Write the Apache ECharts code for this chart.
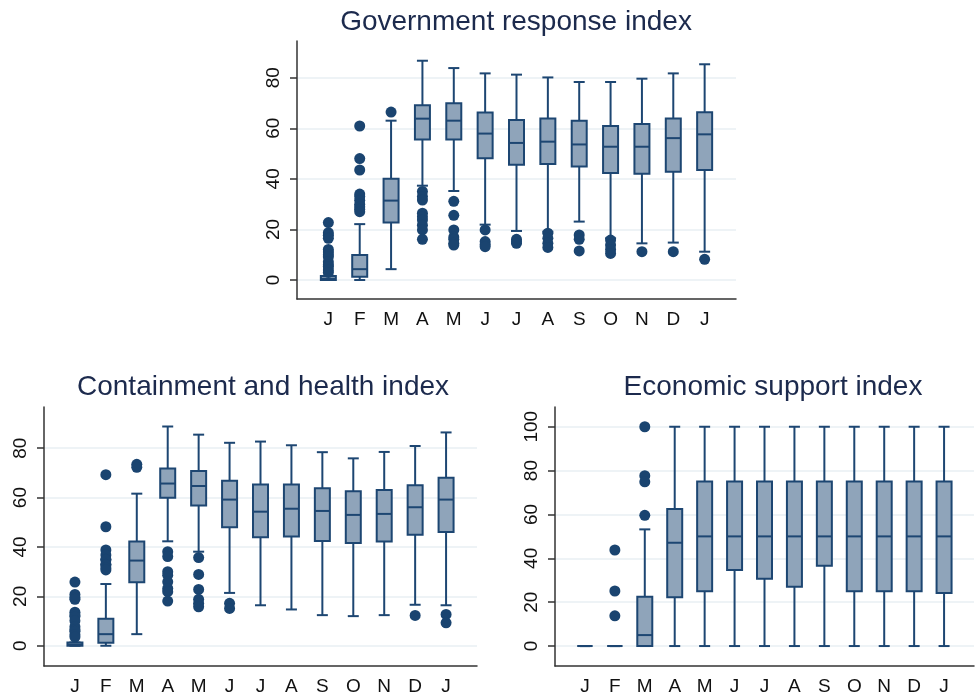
<!DOCTYPE html>
<html>
<head>
<meta charset="utf-8">
<script src="https://cdn.jsdelivr.net/npm/echarts@6/dist/echarts.min.js"></script>
<style>
html,body{margin:0;padding:0;background:#fff;}
#chart{width:977px;height:697px;}
</style>
</head>
<body>
<div id="chart"></div>
<script>
// Month categories (padded with empty slots at both ends)
const months = ['', 'J', 'F', 'M', 'A', 'M', 'J', 'J', 'A', 'S', 'O', 'N', 'D', 'J', ''];
const titles = ['Government response index', 'Containment and health index', 'Economic support index'];
const ticksA = [0, 20, 40, 60, 80];
const ticksC = [0, 20, 40, 60, 80, 100];

// Box statistics per month: [lower whisker, Q1, median, Q3, upper whisker]
const govBoxes = [
  [0, 0, 0.5, 1.6, 1.6],
  [0, 1.3, 4.3, 9.9, 22.1],
  [4.3, 22.7, 31.4, 40, 63],
  [37.3, 55.6, 63.8, 69.1, 86.7],
  [35.2, 55.6, 63, 69.9, 83.8],
  [21.9, 48.1, 57.9, 66.2, 81.7],
  [19.4, 45.6, 54.2, 63.3, 81.2],
  [19.1, 45.9, 54.7, 63.9, 80.1],
  [23.1, 44.9, 53.6, 63, 78.3],
  [16.5, 42.3, 52.7, 60.9, 78.3],
  [14.5, 42, 52.7, 61.7, 79.6],
  [14.8, 42.8, 56.1, 63.9, 81.7],
  [11.2, 43.5, 57.6, 66.3, 85.3]
];
const govOutliers = [
  [22.7, 18.7, 17.7, 16.5, 12.1, 11.1, 10, 9.2, 7.2, 6, 5.3, 4, 3],
  [60.9, 48, 43.5, 34, 33, 31.5, 30, 29, 28, 27],
  [66.4],
  [35, 33, 31.6, 26.4, 25, 23.7, 21.7, 19.8, 16.1],
  [31.1, 25.6, 19.8, 17, 16.1, 14.5, 13.8],
  [19.8, 15.2, 14, 13.2],
  [16.1, 15.2, 14.5],
  [18.5, 16.5, 14.5, 12.9],
  [17.8, 16.1, 11.5],
  [15.8, 13.8, 12.1, 10.5],
  [11.2],
  [11.2],
  [8.2]
];

const conBoxes = [
  [0, 0, 0.5, 1.35, 1.35],
  [0, 1.2, 4.7, 10.9, 25],
  [4.7, 25.7, 34.5, 42.2, 61.6],
  [42.3, 59.9, 65.7, 71.8, 88.8],
  [38.1, 56.8, 64.7, 70.8, 85.5],
  [21.4, 48, 59.2, 66.8, 82.2],
  [16.4, 43.9, 54.3, 65.3, 82.7],
  [14.7, 44.3, 55.5, 65.3, 81.2],
  [12.4, 42.4, 54.6, 63.8, 78.4],
  [12, 41.6, 53, 62.6, 75.9],
  [12.4, 42.2, 53.4, 63.1, 78.5],
  [16.6, 45, 56.1, 65, 80.9],
  [16.4, 46.1, 59.2, 68, 86.4]
];
const conOutliers = [
  [25.8, 20.8, 19.5, 18.8, 13.6, 12.5, 11.8, 10.1, 7.7, 6.5, 5.9, 4.5, 3.5],
  [69.3, 48.2, 38.8, 36.8, 35, 34.7, 33, 32.7, 31.5, 30.7],
  [73.5, 72.3],
  [38.1, 36.1, 30, 28.6, 25.9, 23.2, 21.9, 18.1],
  [35.7, 28.9, 22.8, 18.8, 17.2, 15.8],
  [17.2, 15.1],
  [], [], [], [], [],
  [12.3],
  [12.7, 9.3]
];

const ecoBoxes = [
  [0, 0, 0, 0, 0],
  [0, 0, 0, 0, 0],
  [0, 0, 5, 22.5, 53.2],
  [0, 22.2, 47.1, 62.5, 100],
  [0, 25, 50, 75, 100],
  [0, 34.7, 50, 75, 100],
  [0, 30.7, 50, 75, 100],
  [0, 27, 50, 75, 100],
  [0, 36.6, 50, 75, 100],
  [0, 25, 50, 75, 100],
  [0, 25, 50, 75, 100],
  [0, 25, 50, 75, 100],
  [0, 24.2, 50, 75, 100]
];
const ecoOutliers = [
  [],
  [43.8, 25.1, 13.8],
  [100, 77.7, 74.9, 59.6],
  [], [], [], [], [], [], [], [], [], []
];

const BORDER = '#1d4672';
const FILL = '#8fa4ba';
const DOT = '#1a4470';
const FONT = 'Liberation Sans, Arial, sans-serif';

function boxData(boxes) {
  return boxes.map((b, i) => [i + 1].concat(b));
}
function outlierData(outs) {
  const res = [];
  outs.forEach((arr, i) => arr.forEach(v => res.push([i + 1, v])));
  return res;
}

function renderBox(params, api) {
  const x = api.value(0);
  const lo = api.coord([x, api.value(1)]);
  const q1 = api.coord([x, api.value(2)]);
  const md = api.coord([x, api.value(3)]);
  const q3 = api.coord([x, api.value(4)]);
  const hi = api.coord([x, api.value(5)]);
  const cx = lo[0];
  const bw = 15, cw = 11;
  const ls = { stroke: BORDER, lineWidth: 2, fill: null };
  return {
    type: 'group',
    children: [
      { type: 'line', shape: { x1: cx, y1: hi[1], x2: cx, y2: q3[1] }, style: ls },
      { type: 'line', shape: { x1: cx, y1: q1[1], x2: cx, y2: lo[1] }, style: ls },
      { type: 'line', shape: { x1: cx - cw / 2, y1: hi[1], x2: cx + cw / 2, y2: hi[1] }, style: ls },
      { type: 'line', shape: { x1: cx - cw / 2, y1: lo[1], x2: cx + cw / 2, y2: lo[1] }, style: ls },
      { type: 'rect', shape: { x: cx - bw / 2, y: q3[1], width: bw, height: q1[1] - q3[1] },
        style: { fill: FILL, stroke: BORDER, lineWidth: 2 } },
      { type: 'line', shape: { x1: cx - bw / 2, y1: md[1], x2: cx + bw / 2, y2: md[1] }, style: ls }
    ]
  };
}

const grids = [
  { left: 297, right: 241, top: 41, bottom: 398 },
  { left: 44, right: 500, top: 407, bottom: 31 },
  { left: 555, right: -11, top: 407, bottom: 31 }
];
const yRanges = [[-7.5, 94.5, ticksA], [-8.2, 96.7, ticksA], [-9.1, 109, ticksC]];

const xAxes = grids.map((g, i) => ({
  type: 'category', gridIndex: i, data: months, boundaryGap: false,
  axisLine: { onZero: false, lineStyle: { color: '#333', width: 1.5 } },
  axisTick: { show: false },
  axisLabel: { color: '#111', fontSize: 19, fontFamily: FONT, margin: 11, interval: 0 },
  splitLine: { show: false }
}));
const yAxes = yRanges.map((r, i) => ({
  type: 'value', gridIndex: i, min: r[0], max: r[1],
  axisLine: { show: true, onZero: false, lineStyle: { color: '#333', width: 1.5 } },
  axisTick: { show: true, length: 7, customValues: r[2], lineStyle: { color: '#333', width: 1.5 } },
  axisLabel: { customValues: r[2], rotate: 90, color: '#111', fontSize: 19, fontFamily: FONT, margin: 14 },
  splitLine: { show: true, lineStyle: { color: '#e8eff3', width: 1.5 } }
}));

const boxSets = [govBoxes, conBoxes, ecoBoxes];
const outSets = [govOutliers, conOutliers, ecoOutliers];
const series = [];
boxSets.forEach((b, i) => {
  series.push({
    type: 'custom', xAxisIndex: i, yAxisIndex: i, renderItem: renderBox,
    data: boxData(b), encode: { x: 0, y: [1, 2, 3, 4, 5] }, silent: true, clip: false
  });
  series.push({
    type: 'scatter', xAxisIndex: i, yAxisIndex: i, data: outlierData(outSets[i]),
    symbol: 'circle', symbolSize: 11, itemStyle: { color: DOT, opacity: 1 }, silent: true
  });
});

const titlePos = [[516, 22.5], [263, 387.5], [773, 387.5]];
const graphic = titles.map((t, i) => ({
  type: 'text', x: titlePos[i][0], y: titlePos[i][1], silent: true,
  style: { text: t, fill: '#1c2a4d', font: '28px ' + FONT, textAlign: 'center', textVerticalAlign: 'middle' }
}));

const chart = echarts.init(document.getElementById('chart'), null, { renderer: 'canvas' });
chart.setOption({
  animation: false,
  backgroundColor: '#fff',
  grid: grids,
  xAxis: xAxes,
  yAxis: yAxes,
  series: series,
  graphic: graphic
});
</script>
</body>
</html>
